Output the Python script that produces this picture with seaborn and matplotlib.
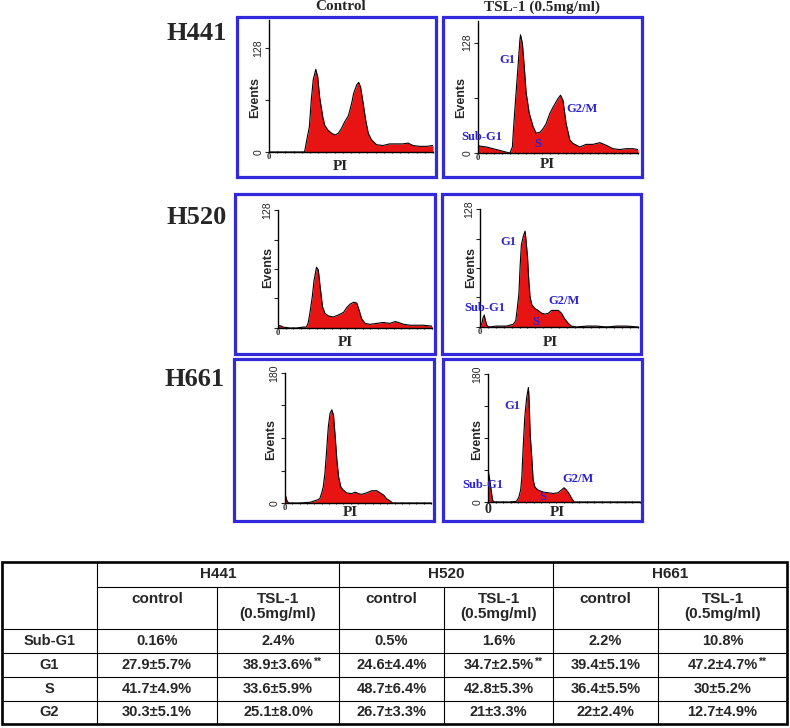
import matplotlib
matplotlib.use("Agg")
import matplotlib.pyplot as plt
import seaborn as sns
from matplotlib.patches import Rectangle
from matplotlib.ticker import MultipleLocator

# PI histograms (channel 0-256, events)
h441_ctrl_x = [0, 55, 56, 59, 63, 66, 69, 73, 76, 79, 84, 87, 92, 98, 103, 108, 113, 118, 124, 129,
               132, 137, 140, 143, 147, 151, 155, 160, 168, 178, 188, 199, 209, 217, 225, 235, 246, 256]
h441_ctrl_y = [0, 0, 2, 15, 31, 64, 89, 102, 93, 68, 43, 33, 27, 23, 21, 23, 29, 37, 45, 60,
               72, 83, 86, 80, 60, 39, 23, 15, 9, 8, 10, 10, 10, 11, 8, 7, 7, 8]

h441_tsl_x = [0, 3, 13, 24, 35, 45, 51, 55, 57, 60, 64, 67, 68, 71, 74, 77, 82, 88, 93, 99,
              104, 109, 115, 120, 128, 132, 136, 141, 147, 152, 163, 173, 184, 195, 205, 216, 227, 237, 248, 256]
h441_tsl_y = [9, 8, 7, 5, 3, 1, 0, 7, 30, 61, 100, 131, 137, 127, 100, 70, 46, 31, 23, 24,
              28, 34, 46, 53, 63, 67, 61, 34, 15, 11, 7, 10, 10, 12, 9, 5, 4, 5, 5, 4]

h520_ctrl_x = [0, 6, 8, 20, 31, 42, 47, 50, 53, 57, 60, 64, 67, 70, 74, 78, 84, 92, 100, 109,
               114, 120, 126, 131, 135, 139, 145, 153, 164, 175, 186, 195, 200, 209, 220, 231, 242, 256]
h520_ctrl_y = [3, 2, 1, 0, 0, 1, 1, 5, 16, 34, 52, 66, 63, 45, 23, 16, 13, 12, 14, 17,
               22, 26, 28, 27, 19, 10, 5, 4, 5, 6, 5, 7, 6, 4, 3, 3, 3, 2]

h520_tsl_x = [0, 3, 5, 7, 8, 11, 14, 27, 43, 54, 58, 60, 63, 65, 67, 70, 73, 74, 77, 79,
              81, 84, 89, 94, 100, 105, 111, 116, 121, 127, 132, 137, 143, 148, 156, 173, 189, 205, 221, 237, 256]
h520_tsl_y = [0, 4, 10, 13, 9, 2, 0, 1, 1, 3, 7, 18, 36, 66, 89, 98, 104, 98, 76, 51,
              33, 24, 20, 18, 15, 14, 15, 18, 18, 18, 15, 9, 4, 1, 0, 1, 1, 0, 1, 1, 0]

h661_ctrl_x = [0, 3, 6, 9, 26, 44, 56, 61, 64, 67, 70, 73, 76, 79, 82, 85, 88, 91, 94, 98,
               102, 108, 117, 123, 129, 134, 143, 152, 161, 167, 173, 178, 184, 189, 256]
h661_ctrl_y = [13, 4, 0, 0, 0, 1, 4, 6, 13, 22, 41, 73, 106, 124, 129, 122, 92, 59, 36, 22,
               18, 14, 13, 15, 13, 12, 14, 17, 17, 14, 11, 6, 3, 0, 0]

h661_tsl_x = [0, 3, 6, 8, 11, 37, 48, 52, 55, 57, 59, 62, 65, 68, 69, 71, 74, 76, 79, 84,
              93, 101, 110, 118, 124, 128, 132, 137, 141, 145, 256]
h661_tsl_y = [45, 31, 12, 2, 0, 0, 1, 7, 17, 35, 73, 120, 146, 161, 148, 96, 59, 31, 21, 17,
              14, 13, 12, 13, 17, 20, 17, 11, 5, 0, 0]

cell_lines = ['H441', 'H520', 'H661']
conditions = ['Control', 'TSL-1 (0.5mg/ml)']
phase_labels = ['Sub-G1', 'G1', 'S', 'G2/M']

# table
phases = ['Sub-G1', 'G1', 'S', 'G2']
table_conditions = ['control', 'TSL-1\n(0.5mg/ml)']
h441_control = ['0.16%', '27.9±5.7%', '41.7±4.9%', '30.3±5.1%']
h441_tsl = ['2.4%', '38.9±3.6%', '33.6±5.9%', '25.1±8.0%']
h520_control = ['0.5%', '24.6±4.4%', '48.7±6.4%', '26.7±3.3%']
h520_tsl = ['1.6%', '34.7±2.5%', '42.8±5.3%', '21±3.3%']
h661_control = ['2.2%', '39.4±5.1%', '36.4±5.5%', '22±2.4%']
h661_tsl = ['10.8%', '47.2±4.7%', '30±5.2%', '12.7±4.9%']
significant = ['', '**', '', '']   # TSL-1 columns only

RED = '#e81414'
BLUE = '#3228dc'
LBLUE = '#2a22cc'
SERIF = 'Liberation Serif'
SANS = 'Liberation Sans'

sns.set_style("white")
plt.rcParams['font.family'] = ['DejaVu Sans']

W, H = 790, 728
fig = plt.figure(figsize=(W / 100, H / 100), dpi=100)

# overlay in pixel units for frames, labels and the table
ov = fig.add_axes([0, 0, 1, 1])
ov.set_xlim(0, W)
ov.set_ylim(H, 0)
ov.axis('off')
ov.set_zorder(10)


def panel(box, x, y, ymax, yticks, ylabels, zero_size=6):
    l, t, r, b = box
    ax = fig.add_axes([l / W, 1 - b / H, (r - l) / W, (b - t) / H])
    ax.set_facecolor('none')
    ax.fill_between(x, y, 0, color=RED, lw=0)
    sns.lineplot(x=x, y=y, ax=ax, color='black', lw=0.8, estimator=None)
    ax.set_xlim(0, 256)
    ax.set_ylim(0, ymax)
    sns.despine(ax=ax)
    for s in ['left', 'bottom']:
        ax.spines[s].set_color('black')
        ax.spines[s].set_linewidth(1.0)
    ax.set_yticks(yticks)
    ax.set_yticklabels(ylabels, rotation=90, va='center', fontsize=7.5, family=SANS)
    ax.set_xticks([0])
    ax.set_xticklabels(['0'], fontsize=zero_size, family=SERIF, fontweight='bold')
    ax.xaxis.set_minor_locator(MultipleLocator(12.8))
    ax.tick_params(axis='x', which='major', bottom=True, length=0, pad=1)
    ax.tick_params(axis='x', which='minor', bottom=True, length=2, width=0.8, direction='inout')
    ax.tick_params(axis='y', left=True, length=3, width=0.8, pad=1)
    ax.set_xlabel('')
    ax.set_ylabel('')
    return ax


panel((269, 20, 433, 152), h441_ctrl_x, h441_ctrl_y, 163, [0, 64, 128], ['0', '', '128'])
panel((478, 21, 638, 153), h441_tsl_x, h441_tsl_y, 153, [0, 64, 128], ['0', '', '128'])
panel((278, 210, 432, 328), h520_ctrl_x, h520_ctrl_y, 128, [0, 32, 64, 96, 128], ['', '', '', '', '128'])
panel((480, 209, 638, 327), h520_tsl_x, h520_tsl_y, 128, [0, 32, 64, 96, 128], ['', '', '', '', '128'])
panel((285, 373, 431, 503), h661_ctrl_x, h661_ctrl_y, 180, [0, 45, 90, 135, 180], ['0', '', '', '', '180'])
panel((488, 374, 640, 502), h661_tsl_x, h661_tsl_y, 180, [0, 45, 90, 135, 180], ['0', '', '', '', '180'],
      zero_size=10)

# blue frames
frames = [(237, 17, 436, 177), (443, 17, 642, 177),
          (235, 194, 435, 354), (442, 194, 641, 354),
          (234, 359, 434, 521), (443, 359, 642, 521)]
for l, t, r, b in frames:
    ov.add_patch(Rectangle((l, t), r - l, b - t, fill=False, ec=BLUE, lw=2.3))

# headings
ov.text(341, 7, conditions[0], ha='center', va='center', family=SERIF, fontweight='bold', fontsize=11)
ov.text(542, 7, conditions[1], ha='center', va='center', family=SERIF, fontweight='bold', fontsize=11)
for name, (x, y) in zip(cell_lines, [(197, 33), (197, 217), (195, 380)]):
    ov.text(x, y, name, ha='center', va='center', family=SERIF, fontweight='bold', fontsize=19)

events_pos = [(255, 98), (461, 98), (268, 268), (471, 268), (271, 439), (477, 440)]
pi_pos = [(340, 167), (547, 165), (345, 343), (550, 343), (350, 513), (557, 513)]
for x, y in events_pos:
    ov.text(x, y, 'Events', rotation=90, ha='center', va='center', family=SANS,
            fontweight='bold', fontsize=9)
for x, y in pi_pos:
    ov.text(x, y, 'PI', ha='center', va='center', family=SERIF, fontweight='bold', fontsize=11)

# phase labels on the TSL-1 panels
label_pos = [
    [(482, 137), (507, 60), (538, 144), (582, 109)],
    [(485, 308), (508, 242), (536, 322), (564, 301)],
    [(483, 485), (512, 406), (543, 497), (578, 479)],
]
for row in label_pos:
    for lab, (x, y) in zip(phase_labels, row):
        ov.text(x, y, lab, ha='center', va='center', color=LBLUE, family=SERIF,
                fontweight='bold', fontsize=9)

# table
cols = [2, 97, 217, 339, 444, 553, 658, 787]
rows = [562, 587, 629, 653, 677, 701, 724]
ov.add_patch(Rectangle((cols[0], rows[0]), cols[-1] - cols[0], rows[-1] - rows[0],
                       fill=False, ec='black', lw=1.9))
for x in [cols[1], cols[3], cols[5]]:
    ov.plot([x, x], [rows[0], rows[-1]], color='black', lw=0.8)
for x in [cols[2], cols[4], cols[6]]:
    ov.plot([x, x], [rows[1], rows[-1]], color='black', lw=0.8)
ov.plot([cols[1], cols[-1]], [rows[1], rows[1]], color='black', lw=0.8)
for y in rows[2:-1]:
    ov.plot([cols[0], cols[-1]], [y, y], color='black', lw=0.8)

tfont = dict(family=SANS, fontweight='bold', ha='center')
for i, name in enumerate(cell_lines):
    xc = (cols[1 + 2 * i] + cols[3 + 2 * i]) / 2
    ov.text(xc, (rows[0] + rows[1]) / 2, name, va='center', fontsize=11, **tfont)
    for j, cond in enumerate(table_conditions):
        xc = (cols[1 + 2 * i + j] + cols[2 + 2 * i + j]) / 2
        ov.text(xc, rows[1] + 5, cond, va='top', fontsize=11, linespacing=1.1, **tfont)

for k, ph in enumerate(phases):
    ov.text((cols[0] + cols[1]) / 2, (rows[2 + k] + rows[3 + k]) / 2, ph, va='center',
            fontsize=10.5, **tfont)

columns = [h441_control, h441_tsl, h520_control, h520_tsl, h661_control, h661_tsl]
for c, vals in enumerate(columns):
    xc = (cols[1 + c] + cols[2 + c]) / 2
    for k, v in enumerate(vals):
        yc = (rows[2 + k] + rows[3 + k]) / 2
        t = ov.text(xc, yc, v, va='center', fontsize=10.5, **tfont)
        if c % 2 == 1 and significant[k]:
            ov.annotate(significant[k], xy=(1, 0.7), xycoords=t, va='center', ha='left',
                        fontsize=7.5, family=SANS, fontweight='bold')

fig.savefig('out.png', dpi=100)
